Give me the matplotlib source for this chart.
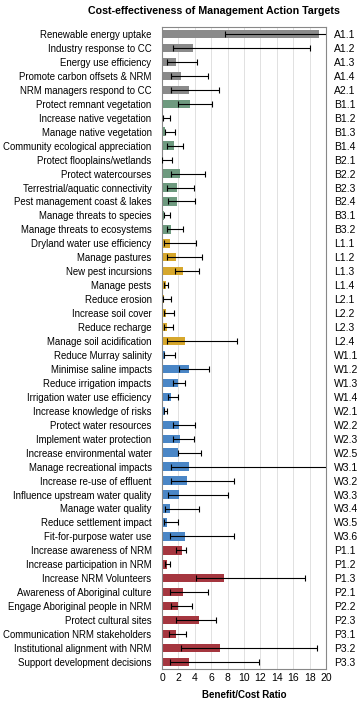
import matplotlib
matplotlib.use("Agg")
import matplotlib.pyplot as plt
import numpy as np

labels = ["Renewable energy uptake", "Industry response to CC", "Energy use efficiency",
          "Promote carbon offsets & NRM", "NRM managers respond to CC",
          "Protect remnant vegetation", "Increase native vegetation", "Manage native vegetation",
          "Community ecological appreciation", "Protect flooplains/wetlands",
          "Protect watercourses", "Terrestrial/aquatic connectivity",
          "Pest management coast & lakes", "Manage threats to species",
          "Manage threats to ecosystems", "Dryland water use efficiency", "Manage pastures",
          "New pest incursions", "Manage pests", "Reduce erosion", "Increase soil cover",
          "Reduce recharge", "Manage soil acidification", "Reduce Murray salinity",
          "Minimise saline impacts", "Reduce irrigation impacts", "Irrigation water use efficiency",
          "Increase knowledge of risks", "Protect water resources", "Implement water protection",
          "Increase environmental water", "Manage recreational impacts",
          "Increase re-use of effluent", "Influence upstream water quality",
          "Manage water quality", "Reduce settlement impact", "Fit-for-purpose water use",
          "Increase awareness of NRM", "Increase participation in NRM",
          "Increase NRM Volunteers", "Awareness of Aboriginal culture",
          "Engage Aboriginal people in NRM", "Protect cultural sites",
          "Communication NRM stakeholders", "Institutional alignment with NRM",
          "Support development decisions"]
codes = ["A1.1", "A1.2", "A1.3", "A1.4", "A2.1",
         "B1.1", "B1.2", "B1.3", "B1.4", "B2.1", "B2.2", "B2.3", "B2.4", "B3.1", "B3.2",
         "L1.1", "L1.2", "L1.3", "L1.4", "L2.1", "L2.2", "L2.3", "L2.4",
         "W1.1", "W1.2", "W1.3", "W1.4", "W2.1", "W2.2", "W2.3", "W2.5",
         "W3.1", "W3.2", "W3.3", "W3.4", "W3.5", "W3.6",
         "P1.1", "P1.2", "P1.3", "P2.1", "P2.2", "P2.3", "P3.1", "P3.2", "P3.3"]
values = [19.2, 3.8, 1.65, 2.3, 3.3,
          3.45, 0.12, 0.32, 1.5, 0.05, 2.2, 1.8, 1.8, 0.28, 1.15,
          1.0, 1.65, 2.6, 0.5, 0.25, 0.5, 0.65, 2.85,
          0.35, 3.3, 1.9, 1.1, 0.35, 2.1, 2.15, 2.0,
          3.3, 3.1, 2.1, 0.95, 0.55, 2.75,
          2.4, 0.55, 7.55, 2.6, 2.0, 4.5, 1.65, 7.05, 3.35]
low = [7.7, 1.35, 0.55, 1.1, 1.1,
       1.9, 0.12, 0.32, 0.65, 0.05, 1.1, 0.55, 0.75, 0.2, 0.55,
       0.3, 0.6, 1.6, 0.2, 0.15, 0.2, 0.2, 0.6,
       0.2, 2.05, 1.35, 0.75, 0.2, 1.3, 1.3, 2.0,
       1.1, 1.1, 0.75, 0.35, 0.3, 1.0,
       1.65, 0.4, 4.2, 1.0, 1.1, 1.75, 0.8, 2.3, 0.95]
high = [22.0, 18.0, 4.3, 5.55, 6.9,
        6.05, 0.95, 1.6, 2.5, 1.2, 5.2, 3.9, 4.0, 0.95, 2.5,
        4.15, 4.9, 4.5, 0.75, 1.05, 1.45, 1.4, 9.1,
        1.6, 5.7, 2.75, 2.0, 0.65, 4.0, 3.85, 4.75,
        22.0, 8.8, 8.05, 4.55, 2.0, 8.8,
        2.95, 0.95, 17.4, 5.65, 3.6, 6.6, 2.95, 18.9, 11.8]

group_colors = {"A": "#8a8a8a", "B": "#6e9a7f", "L": "#d6a72c", "W": "#4a86c6", "P": "#a5363f"}

plt.rcParams['font.family'] = ['Liberation Sans', 'DejaVu Sans']

fig = plt.figure(figsize=(3.6, 7.04), dpi=100)
ax = fig.add_axes([162/360, 1 - 669/704, (326-162)/360, (669-27)/704])

n = len(labels)
y = np.arange(n)
vals = np.array(values)
lo = np.array(low)
hi = np.array(high)
colors = [group_colors[c[0]] for c in codes]

ax.barh(y, vals, height=0.6, color=colors, zorder=2)
ax.errorbar(vals, y, xerr=[vals - lo, hi - vals], fmt='none', ecolor='black',
            elinewidth=0.8, capsize=2.2, capthick=0.8, zorder=3)

ax.set_xlim(0, 20)
ax.set_ylim(n - 0.5, -0.5)
ax.set_xticks(np.arange(0, 21, 2))
ax.tick_params(axis='x', labelsize=7.5, length=0, pad=3)
ax.set_yticks(y)
ax.set_yticklabels(labels, fontsize=6.9)
ax.tick_params(axis='y', length=0, pad=7.5)
ax.xaxis.grid(True, color='#dcdcdc', linewidth=0.6, zorder=0)
ax.set_axisbelow(True)
for s in ax.spines.values():
    s.set_color('#888888')
    s.set_linewidth(0.8)

ax2 = ax.twinx()
ax2.set_ylim(ax.get_ylim())
ax2.set_yticks(y)
ax2.set_yticklabels(codes, fontsize=7.5)
ax2.tick_params(axis='y', length=0, pad=6)
for s in ax2.spines.values():
    s.set_visible(False)

ax.set_xlabel("Benefit/Cost Ratio", fontsize=7, fontweight='bold', labelpad=5)
fig.text(0.593, 1 - 11/704, "Cost-effectiveness of Management Action Targets",
         ha='center', va='center', fontsize=7.7, fontweight='bold')

fig.savefig("out.png", dpi=100)
